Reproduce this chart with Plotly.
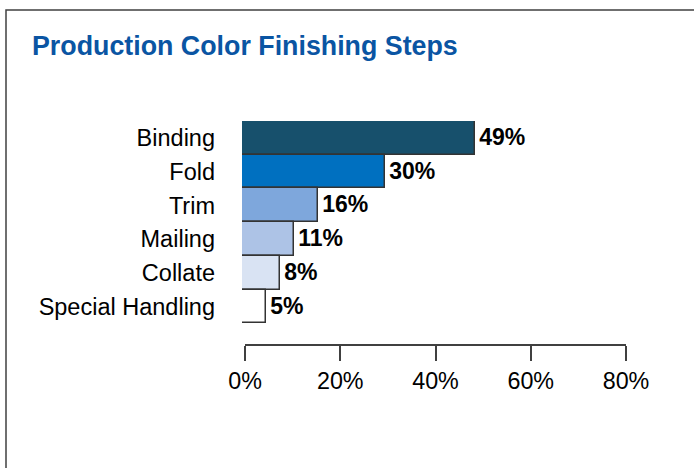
import plotly.graph_objects as go

categories = ["Binding", "Fold", "Trim", "Mailing", "Collate", "Special Handling"]
values = [49, 30, 16, 11, 8, 5]
value_labels = ["49%", "30%", "16%", "11%", "8%", "5%"]
bar_colors = ["#17506c", "#0070c0", "#7ea7dc", "#adc3e6", "#d9e3f3", "#ffffff"]
tick_vals = [0, 20, 40, 60, 80]
tick_text = ["0%", "20%", "40%", "60%", "80%"]
title_text = "Production Color Finishing Steps"

W, H = 694, 468
FONT = "Liberation Sans, Arial, sans-serif"

fig = go.Figure()
fig.add_trace(go.Bar(
    x=values, y=categories, orientation="h",
    marker=dict(color=bar_colors, line=dict(color="#333333", width=1.5)),
    text=value_labels, texttemplate="\u200a%{text}", textposition="outside", cliponaxis=False,
    textfont=dict(family=FONT, size=23, color="#000000", weight="bold"),
    showlegend=False, hoverinfo="skip",
))
# empty trace so the separate tick axis is drawn
fig.add_trace(go.Scatter(x=[], y=[], xaxis="x2", yaxis="y", showlegend=False))

fig.update_layout(
    width=W, height=H,
    margin=dict(l=0, r=0, t=0, b=0),
    paper_bgcolor="white", plot_bgcolor="rgba(0,0,0,0)",
    bargap=0,
    xaxis=dict(domain=[242 / W, 623 / W], range=[0, 80], visible=False, fixedrange=True),
    xaxis2=dict(
        domain=[245 / W, 626 / W], range=[0, 80], anchor="free", position=1 - 345 / H,
        showline=True, linecolor="#404040", linewidth=1.5,
        ticks="outside", ticklen=15, tickwidth=1.5, tickcolor="#404040",
        tickvals=tick_vals, ticktext=tick_text, showgrid=False, zeroline=False,
        tickfont=dict(family=FONT, size=23.3, color="#000000"), automargin=False,
    ),
    yaxis=dict(
        domain=[1 - 323.3 / H, 1 - 121 / H],
        categoryorder="array", categoryarray=categories,
        range=[5.5, -0.5], showgrid=False, zeroline=False, showline=False,
        ticks="", ticklabelstandoff=26,
        tickfont=dict(family=FONT, size=23.5, color="#000000"), automargin=False,
    ),
    annotations=[dict(
        text=title_text, xref="paper", yref="paper", x=30 / W, y=1 - 46 / H,
        xanchor="left", yanchor="middle", showarrow=False,
        font=dict(family=FONT, size=26.8, color="#0a55a3", weight="bold"),
    )],
    shapes=[
        dict(type="rect", xref="paper", yref="paper", x0=6 / W, x1=1.2,
             y0=-0.2, y1=1 - 10 / H, line=dict(color="#404040", width=1.5)),
    ],
)

fig.write_html("out.html")
